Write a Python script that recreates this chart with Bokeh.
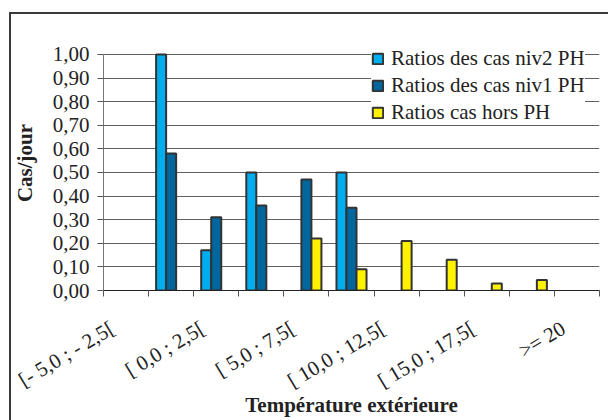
import numpy as np
from bokeh.plotting import figure
from bokeh.models import (ColumnDataSource, LinearAxis, FixedTicker, Range1d, Grid,
                          CustomJSTickFormatter, Legend, LegendItem, InlineStyleSheet)
from bokeh.embed import file_html
from bokeh.resources import INLINE

categories = ["[- 5,0 ; - 2,5[", "[- 2,5 ; 0,0[", "[ 0,0 ; 2,5[", "[ 2,5 ; 5,0[",
              "[ 5,0 ; 7,5[", "[ 7,5 ; 10,0[", "[ 10,0 ; 12,5[", "[ 12,5 ; 15,0[",
              "[ 15,0 ; 17,5[", "[ 17,5 ; 20,0[", ">= 20"]
niv2_ph = [0.0, 1.00, 0.17, 0.50, 0.0, 0.50, 0.0, 0.0, 0.0, 0.0, 0.0]
niv1_ph = [0.0, 0.58, 0.31, 0.36, 0.47, 0.35, 0.0, 0.0, 0.0, 0.0, 0.0]
hors_ph = [0.0, 0.0, 0.0, 0.0, 0.22, 0.09, 0.21, 0.13, 0.03, 0.045, 0.0]
series_names = ["Ratios des cas niv2 PH", "Ratios des cas niv1 PH", "Ratios cas hors PH"]
y_ticks = [0.0, 0.1, 0.2, 0.3, 0.4, 0.5, 0.6, 0.7, 0.8, 0.9, 1.0]
shown_labels = [0, 2, 4, 6, 8, 10]

FONT = "Liberation Serif"
FS = "21px"
colors = ["#00AEEF", "#00669E", "#FFF200"]
n = len(categories)
centers = np.arange(n) + 0.5
bar_w = 10 / 45
offsets = [-bar_w, 0.0, bar_w]
label_shift = 0.30

p = figure(width=608, height=420, output_backend="svg", toolbar_location=None,
           x_range=Range1d(0, n), y_range=Range1d(0, 1.08),
           x_axis_type=None, y_axis_type=None,
           min_border_left=103, min_border_right=9, min_border_top=35, min_border_bottom=129)
# outer chart border (only its left and top edges fall inside the window)
p.stylesheets = [InlineStyleSheet(css=":host { box-shadow: inset 9px 12px 0px 0px #ffffff, "
                                      "inset 11px 14px 0px 0px #3a3a3a; }")]
p.outline_line_color = None
p.background_fill_color = "white"
p.border_fill_color = "white"
p.border_fill_alpha = 0.0

# y axis
yax = LinearAxis(ticker=FixedTicker(ticks=y_ticks), bounds=(0, 1),
                 formatter=CustomJSTickFormatter(code="return tick.toFixed(2).replace('.', ',');"))
yax.axis_label = "Cas/jour"
yax.axis_label_text_font = FONT
yax.axis_label_text_font_style = "bold"
yax.axis_label_text_font_size = FS
yax.axis_label_text_color = "#222222"
yax.major_label_text_font = FONT
yax.major_label_text_font_size = FS
yax.major_label_text_color = "#222222"
yax.major_tick_out = 6
yax.major_tick_in = 0
yax.minor_tick_line_color = None
yax.major_tick_line_color = "#555555"
yax.axis_line_color = "#777777"
yax.major_label_standoff = 8
yax.axis_label_standoff = 13
p.add_layout(yax, "left")

# x axis: labels every other category, tick marks at category boundaries
xax = LinearAxis(ticker=FixedTicker(ticks=[centers[i] - label_shift for i in shown_labels],
                                    minor_ticks=list(range(n + 1))))
xax.major_label_overrides = {float(centers[i] - label_shift): categories[i] for i in shown_labels}
xax.major_label_orientation = 0.54
xax.major_label_text_font = FONT
xax.major_label_text_font_size = FS
xax.major_label_text_color = "#222222"
xax.major_tick_line_color = None
xax.major_tick_out = 0
xax.major_tick_in = 0
xax.minor_tick_out = 6
xax.minor_tick_in = 0
xax.minor_tick_line_color = "#555555"
xax.axis_line_color = "#222222"
xax.major_label_standoff = 30
xax.axis_label = "Température extérieure"
xax.axis_label_text_font = FONT
xax.axis_label_text_font_style = "bold"
xax.axis_label_text_font_size = FS
xax.axis_label_text_color = "#222222"
xax.axis_label_standoff = -13
p.add_layout(xax, "below")

grid = Grid(dimension=1, ticker=FixedTicker(ticks=y_ticks), grid_line_color="#606060",
            grid_line_width=1)
p.add_layout(grid)

renderers = []
for vals, off, col in zip([niv2_ph, niv1_ph, hors_ph], offsets, colors):
    v = np.array(vals)
    mask = v > 0
    src = ColumnDataSource(dict(x=centers[mask] + off, top=v[mask]))
    r = p.vbar(x="x", top="top", width=bar_w, bottom=0, source=src,
               fill_color=col, line_color="#333333", line_width=2)
    renderers.append(r)

legend = Legend(items=[LegendItem(label=nm, renderers=[r]) for nm, r in zip(series_names, renderers)],
                location=(268, 165))
legend.label_text_font = FONT
legend.label_text_font_size = FS
legend.label_text_color = "#222222"
legend.glyph_width = 13
legend.glyph_height = 13
legend.label_height = 22
legend.spacing = 2
legend.padding = 8
legend.label_standoff = 7
legend.border_line_color = None
legend.background_fill_color = "white"
legend.background_fill_alpha = 1.0
legend.margin = 0
p.add_layout(legend, "center")

open("out.html", "w").write(file_html(p, INLINE))
